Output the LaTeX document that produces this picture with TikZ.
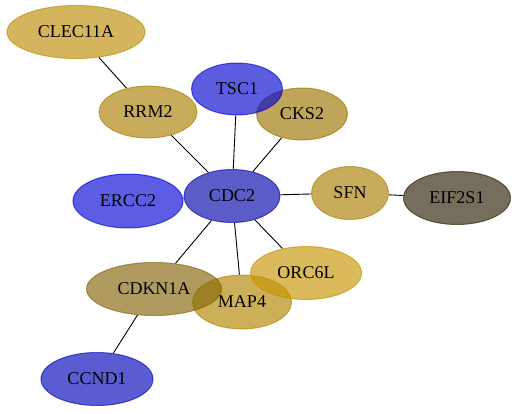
\documentclass[tikz,border=0pt]{standalone}
\usepackage{fontspec}
\setmainfont{Liberation Serif}
\usetikzlibrary{shapes.geometric}

\definecolor{goldA}{RGB}{189,140,5}
\definecolor{goldB}{RGB}{171,128,5}
\definecolor{goldC}{RGB}{155,117,2}
\definecolor{goldD}{RGB}{198,149,2}
\definecolor{goldE}{RGB}{178,132,0}
\definecolor{oliveA}{RGB}{132,102,9}
\definecolor{greyA}{RGB}{43,32,5}
\definecolor{blueA}{RGB}{5,5,209}
\definecolor{blueD}{RGB}{5,5,214}
\definecolor{blueB}{RGB}{5,5,171}
\definecolor{blueC}{RGB}{5,5,186}

\tikzset{
  gene/.style={ellipse, inner sep=0pt, line width=1pt, opacity=0.65, text opacity=1,
    font=\fontsize{18}{21}\selectfont},
  link/.style={line width=0.9pt, black}
}

\begin{document}
\begin{tikzpicture}[x=1pt,y=-1pt]
		\useasboundingbox (0,0) rectangle (517,413);

		% Genes
		\node[gene, fill=goldA, draw=goldA, minimum width=138pt, minimum height=53pt] (clec) at (76,32)  {CLEC11A};
		\node[gene, fill=goldB, draw=goldB, minimum width=98pt,  minimum height=52pt] (rrm)  at (148,112) {RRM2};
		\node[gene, fill=goldC, draw=goldC, minimum width=91pt,  minimum height=52pt] (cks)  at (302,114) {CKS2};
		\node[gene, fill=blueA, draw=blueA, minimum width=91pt,  minimum height=52pt] (tsc)  at (237,89)  {TSC1};
		\node[gene, fill=blueD, draw=blueD, minimum width=110pt, minimum height=54pt] (ercc) at (128,201) {ERCC2};
		\node[gene, fill=blueB, draw=blueB, minimum width=96pt,  minimum height=53pt] (cdc)  at (232,196) {CDC2};
		\node[gene, fill=goldB, draw=goldB, minimum width=77pt,  minimum height=53pt] (sfn)  at (350,193) {SFN};
		\node[gene, fill=greyA, draw=greyA, minimum width=107pt, minimum height=53pt] (eif)  at (457,198) {EIF2S1};
		\node[gene, fill=goldE, draw=goldE, minimum width=99pt,  minimum height=54pt] (map)  at (242,302) {MAP4};
		\node[gene, fill=goldD, draw=goldD, minimum width=111pt, minimum height=53pt] (orc)  at (306,273) {ORC6L};
		\node[gene, fill=oliveA, draw=oliveA, minimum width=135pt, minimum height=53pt] (cdkn) at (154,289) {CDKN1A};
		\node[gene, fill=blueC, draw=blueC, minimum width=112pt, minimum height=53pt] (ccnd) at (97,379)  {CCND1};

		% Links
		\draw[link] (clec) -- (rrm);
		\draw[link] (rrm)  -- (cdc);
		\draw[link] (tsc)  -- (cdc);
		\draw[link] (cks)  -- (cdc);
		\draw[link] (ercc) -- (cdc);
		\draw[link] (cdc)  -- (sfn);
		\draw[link] (sfn)  -- (eif);
		\draw[link] (cdc)  -- (orc);
		\draw[link] (cdc)  -- (map);
		\draw[link] (cdc)  -- (cdkn);
		\draw[link] (cdkn) -- (ccnd);
	\end{tikzpicture}
\end{document}
